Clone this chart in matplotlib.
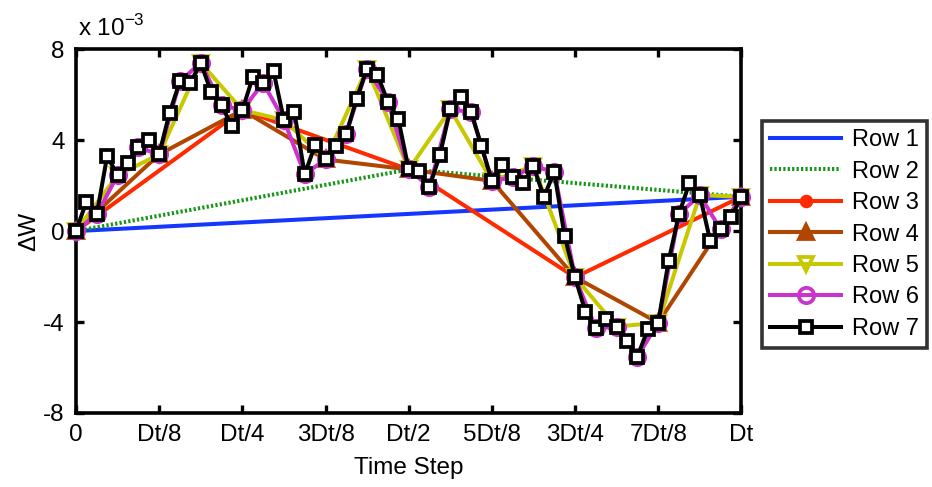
import numpy as np
import matplotlib
matplotlib.use("Agg")
import matplotlib.pyplot as plt

# Finest refinement of the Brownian path (65 points over [0, Dt]), units of 1e-3
row7 = [
    0.00, 1.29, 0.73, 3.30, 2.46, 3.00, 3.68, 4.00,
    3.37, 5.20, 6.59, 6.52, 7.40, 6.12, 5.54, 4.60,
    5.32, 6.76, 6.52, 7.03, 4.88, 5.24, 2.50, 3.78,
    3.15, 3.74, 4.29, 5.83, 7.15, 6.86, 5.69, 4.93,
    2.71, 2.65, 1.95, 3.34, 5.35, 5.88, 5.24, 3.74,
    2.21, 2.90, 2.36, 2.10, 2.86, 1.50, 2.60, -0.22,
    -2.03, -3.55, -4.28, -3.88, -4.20, -4.84, -5.52, -4.32,
    -4.03, -1.31, 0.75, 2.12, 1.58, -0.43, 0.07, 0.60,
    1.51,
]
row_labels = ["Row 1", "Row 2", "Row 3", "Row 4", "Row 5", "Row 6", "Row 7"]
tick_labels = ["0", "Dt/8", "Dt/4", "3Dt/8", "Dt/2", "5Dt/8", "3Dt/4", "7Dt/8", "Dt"]

colors = ["#1436ff", "#169616", "#ff2a00", "#b04600", "#c8c800", "#cc33cc", "#000000"]
markers = ["None", "None", "o", "^", "v", "o", "s"]
msizes = [0, 0, 7, 10, 10, 11, 8]
mfaces = [None, None, colors[2], colors[3], "none", "none", "white"]

plt.rcParams["font.family"] = ["Liberation Sans", "DejaVu Sans"]
FS = 17.5

fig = plt.figure(figsize=(9.32, 4.87), dpi=100)
ax = fig.add_axes([0.0815, 0.152, 0.714, 0.747])

y7 = np.array(row7) * 1e-3
n = len(y7) - 1
t_all = np.linspace(0.0, 1.0, n + 1)
handles = []
for k in range(7):
    step = n // (2 ** k)
    t = t_all[::step]
    y = y7[::step]
    h, = ax.plot(t, y, color=colors[k], linewidth=2.9,
                 marker=markers[k], markersize=msizes[k],
                 markerfacecolor=mfaces[k] if mfaces[k] else colors[k],
                 markeredgecolor=colors[k], markeredgewidth=2.7,
                 label=row_labels[k], zorder=3 + k, clip_on=False)
    if k == 1:
        h.set_dashes((0.55, 0.55))
    handles.append(h)

ax.set_xlim(0, 1)
ax.set_ylim(-8e-3, 8e-3)
ax.set_xticks(np.linspace(0, 1, 9))
ax.set_xticklabels(tick_labels)
ax.set_yticks([-8e-3, -4e-3, 0, 4e-3, 8e-3])
ax.set_yticklabels(["-8", "-4", "0", "4", "8"])
ax.tick_params(direction="in", length=6, width=2.4, top=True, right=True,
               labelsize=FS)
ax.tick_params(axis="x", pad=8)
ax.tick_params(axis="y", pad=8)
for s in ax.spines.values():
    s.set_linewidth(2.6)
    s.set_zorder(2)

ax.set_xlabel("Time Step", fontsize=FS, labelpad=8)
ax.set_ylabel("\u0394W", fontsize=FS, labelpad=2)
ax.text(0.003, 1.022, r"x 10$^{\mathregular{-3}}$", transform=ax.transAxes,
        fontsize=FS, ha="left", va="bottom")

leg = fig.legend(handles=handles, loc="upper left",
                 bbox_to_anchor=(762 / 932, 1 - 121 / 487), fontsize=17,
                 frameon=True, fancybox=False, edgecolor="black",
                 handlelength=3.0, handletextpad=0.45, labelspacing=0.4,
                 borderpad=0.35, borderaxespad=0.0)
leg.get_frame().set_linewidth(2.6)

fig.savefig("out.png", dpi=100)
